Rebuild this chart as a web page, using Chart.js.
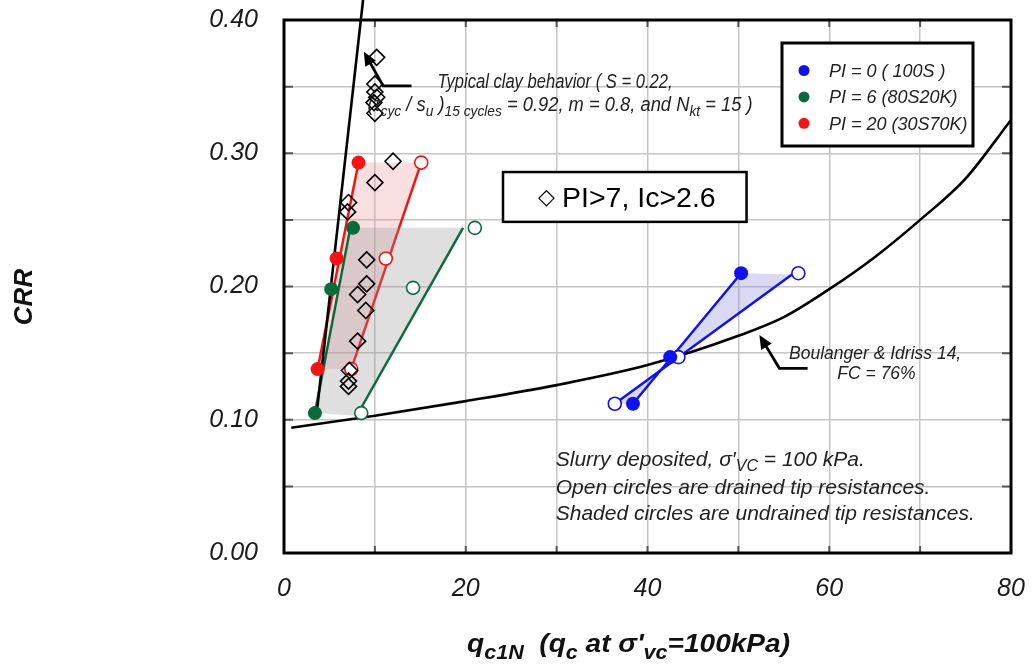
<!DOCTYPE html>
<html>
<head>
<meta charset="utf-8">
<script src="https://cdn.jsdelivr.net/npm/chart.js@4.4.1/dist/chart.umd.min.js"></script>
<style>
  html, body { margin: 0; padding: 0; background: #fff; }
  #wrap { width: 1034px; height: 666px; }
</style>
</head>
<body>
<div id="wrap"><canvas id="chart" width="1034" height="666"></canvas></div>
<script>
// --- data ---
// undrained (shaded) and drained (open) tip resistances
const blueUndrainedX = [38.4, 42.5, 50.3];
const blueUndrainedY = [0.112, 0.147, 0.210];
const blueDrainedX = [36.4, 43.4, 56.6];
const blueDrainedY = [0.112, 0.147, 0.210];
const greenUndrainedX = [3.4, 5.2, 7.6];
const greenUndrainedY = [0.105, 0.198, 0.244];
const greenDrainedX = [8.5, 14.2, 21.0];
const greenDrainedY = [0.105, 0.199, 0.244];
const redUndrainedX = [3.7, 5.8, 8.2];
const redUndrainedY = [0.138, 0.221, 0.293];
const redDrainedX = [7.4, 11.2, 15.1];
const redDrainedY = [0.138, 0.221, 0.293];

// trend lines (end points)
const blueUndrainedLineX = [38.4, 50.3];
const blueUndrainedLineY = [0.112, 0.210];
const blueDrainedLineX = [36.4, 55.9];
const blueDrainedLineY = [0.112, 0.209];
const greenUndrainedLineX = [3.4, 7.3];
const greenUndrainedLineY = [0.105, 0.244];
const greenDrainedLineX = [8.0, 19.7];
const greenDrainedLineY = [0.103, 0.244];
const redUndrainedLineX = [3.7, 8.2];
const redUndrainedLineY = [0.138, 0.293];
const redDrainedLineX = [7.4, 15.1];
const redDrainedLineY = [0.138, 0.293];

// PI>7, Ic>2.6 field points
const clayX = [10.2, 10.0, 10.0, 10.2, 9.9, 10.0, 12.0, 10.0, 7.1, 7.0, 9.1, 9.1, 8.1, 9.0, 8.1, 7.2, 7.1, 7.1];
const clayY = [0.372, 0.352, 0.346, 0.342, 0.338, 0.330, 0.294, 0.278, 0.263, 0.256, 0.220, 0.202, 0.194, 0.182, 0.159, 0.137, 0.129, 0.125];

// typical clay behaviour line
const clayLineX = [3.6, 8.7];
const clayLineY = [0.105, 0.415];

// Boulanger & Idriss 14, FC = 76%
const biX = [0.8, 10, 20, 30, 40, 50, 55, 60, 65, 70, 75, 80];
const biY = [0.094, 0.103, 0.114, 0.126, 0.141, 0.163, 0.177, 0.198, 0.222, 0.250, 0.281, 0.325];

const legendLabels = ['PI = 0 ( 100S )', 'PI = 6 (80S20K)', 'PI = 20 (30S70K)'];
const xTickLabels = [0, 20, 40, 60, 80];
const yTickLabels = [0, 0.1, 0.2, 0.3, 0.4];

const BLUE = '#1010f0';
const GREEN = '#0c6a3a';
const RED = '#f41414';
const FONT = '"Liberation Sans", Arial, Helvetica, sans-serif';

const pts = (xs, ys) => xs.map((x, i) => ({ x: x, y: ys[i] }));
// closed shape between an undrained line and a drained line
const band = (ax, ay, bx, by) => pts([ax[0], ax[1], bx[1], bx[0]], [ay[0], ay[1], by[1], by[0]]);

function markers(xs, ys, color, open, order) {
    return {
        data: pts(xs, ys),
        showLine: false,
        pointStyle: 'circle',
        pointRadius: open ? 6.5 : 7,
        pointBorderWidth: open ? 1.6 : 0,
        pointBorderColor: color,
        pointBackgroundColor: open ? '#ffffff' : color,
        order: order
    };
}

function line(xs, ys, color, order, extra) {
    return Object.assign({
        data: pts(xs, ys),
        showLine: true,
        borderColor: color,
        borderWidth: 2.5,
        pointRadius: 0,
        fill: false,
        order: order
    }, extra || {});
}

function shade(data, color, order) {
    return {
        data: data,
        showLine: true,
        borderWidth: 0,
        pointRadius: 0,
        backgroundColor: color,
        fill: 'shape',
        order: order
    };
}

// rich text with subscripts: segs = [[text, isSub], ...]
function drawRich(ctx, segs, x, y, size, style, fitWidth) {
    const subSize = Math.round(size * 0.75);
    const fontOf = sub => style + ' ' + (sub ? subSize : size) + 'px ' + FONT;
    let total = 0;
    segs.forEach(s => { ctx.font = fontOf(s[1]); total += ctx.measureText(s[0]).width; });
    const k = fitWidth ? fitWidth / total : 1;
    ctx.save();
    ctx.translate(x, y);
    ctx.scale(k, 1);
    ctx.textAlign = 'left';
    ctx.textBaseline = 'alphabetic';
    let cx = 0;
    segs.forEach(s => {
        ctx.font = fontOf(s[1]);
        ctx.fillText(s[0], cx, s[1] ? size * 0.25 : 0);
        cx += ctx.measureText(s[0]).width;
    });
    ctx.restore();
}

function arrow(ctx, xs, ys, sx, sy) {
    // xs/ys in data units, first point is the tip
    const p = xs.map((v, i) => [sx.getPixelForValue(v), sy.getPixelForValue(ys[i])]);
    ctx.save();
    ctx.strokeStyle = '#000';
    ctx.fillStyle = '#000';
    ctx.lineWidth = 2.8;
    const ang = Math.atan2(p[0][1] - p[1][1], p[0][0] - p[1][0]);
    ctx.beginPath();
    ctx.moveTo(p[0][0] - Math.cos(ang) * 8, p[0][1] - Math.sin(ang) * 8);
    for (let i = 1; i < p.length; i++) ctx.lineTo(p[i][0], p[i][1]);
    ctx.stroke();
    ctx.beginPath();
    ctx.moveTo(p[0][0], p[0][1]);
    ctx.lineTo(p[0][0] - Math.cos(ang - 0.42) * 15, p[0][1] - Math.sin(ang - 0.42) * 15);
    ctx.lineTo(p[0][0] - Math.cos(ang + 0.42) * 15, p[0][1] - Math.sin(ang + 0.42) * 15);
    ctx.closePath();
    ctx.fill();
    ctx.restore();
}

const decorations = {
    id: 'decorations',
    beforeDatasetsDraw(chart) {
        const { ctx, chartArea: a, scales } = chart;
        ctx.save();
        // short inner tick stubs
        ctx.strokeStyle = '#555';
        ctx.lineWidth = 2;
        scales.x.ticks.forEach(t => {
            const px = scales.x.getPixelForValue(t.value);
            ctx.beginPath();
            ctx.moveTo(px, a.bottom); ctx.lineTo(px, a.bottom - 7);
            ctx.moveTo(px, a.top); ctx.lineTo(px, a.top + 7);
            ctx.stroke();
        });
        scales.y.ticks.forEach(t => {
            const py = scales.y.getPixelForValue(t.value);
            ctx.beginPath();
            ctx.moveTo(a.left, py); ctx.lineTo(a.left + 9, py);
            ctx.moveTo(a.right, py); ctx.lineTo(a.right - 9, py);
            ctx.stroke();
        });
        // frame
        ctx.strokeStyle = '#000';
        ctx.lineWidth = 3;
        ctx.strokeRect(a.left, a.top, a.right - a.left, a.bottom - a.top);
        ctx.restore();
    },
    afterDatasetsDraw(chart) {
        const { ctx, chartArea: a, scales } = chart;
        const sx = scales.x, sy = scales.y;
        const X = v => sx.getPixelForValue(v);
        const Y = v => sy.getPixelForValue(v);
        ctx.save();
        ctx.fillStyle = '#222';

        // typical clay note + arrow
        arrow(ctx, [8.79, 10.91, 14.03], [0.3762, 0.3505, 0.3505], sx, sy);
        drawRich(ctx, [['Typical clay behavior ( S = 0.22,', 0]], X(16.9), Y(0.349), 20, 'italic', 235);
        drawRich(ctx, [['(\u03c4', 0], ['cyc', 1], [' / s', 0], ['u', 1], [' )', 0], ['15 cycles', 1],
            [' = 0.92, m = 0.8, and N', 0], ['kt', 1], [' = 15 )', 0]], X(9.2), Y(0.3317), 20, 'italic', 385);

        // PI>7, Ic>2.6 box
        const bx0 = X(24.1), bx1 = X(50.9), by0 = Y(0.2859), by1 = Y(0.2485);
        ctx.fillStyle = '#fff';
        ctx.fillRect(bx0, by0, bx1 - bx0, by1 - by0);
        ctx.strokeStyle = '#000';
        ctx.lineWidth = 2.5;
        ctx.strokeRect(bx0, by0, bx1 - bx0, by1 - by0);
        ctx.fillStyle = '#000';
        ctx.textBaseline = 'alphabetic';
        ctx.textAlign = 'left';
        ctx.font = '22px "DejaVu Sans", ' + FONT;
        ctx.fillText('\u25c7', bx0 + 35, by0 + 32);
        ctx.font = '28.5px ' + FONT;
        ctx.fillText('PI>7, Ic>2.6', bx0 + 59, by0 + 35);

        // Boulanger & Idriss note + arrow
        arrow(ctx, [52.31, 54.51, 57.62], [0.1636, 0.1386, 0.1386], sx, sy);
        ctx.fillStyle = '#222';
        ctx.textAlign = 'center';
        ctx.font = 'italic 17.5px ' + FONT;
        ctx.fillText('Boulanger & Idriss 14,', X(65.05), Y(0.1456));
        ctx.fillText('FC = 76%', X(65.2), Y(0.1306));

        // bottom notes
        drawRich(ctx, [['Slurry deposited, \u03c3\u2032', 0], ['VC', 1], [' = 100 kPa.', 0]], X(29.9), Y(0.0653), 21, 'italic');
        drawRich(ctx, [['Open circles are drained tip resistances.', 0]], X(29.9), Y(0.0443), 21, 'italic');
        drawRich(ctx, [['Shaded circles are undrained tip resistances.', 0]], X(29.9), Y(0.0248), 21, 'italic');

        // legend box
        const lx = a.right - 229, ly = a.top + 23, lw = 191, lh = 103;
        ctx.fillStyle = '#fff';
        ctx.fillRect(lx, ly, lw, lh);
        ctx.strokeStyle = '#000';
        ctx.lineWidth = 3;
        ctx.strokeRect(lx, ly, lw, lh);
        const colors = [BLUE, GREEN, RED];
        ctx.textAlign = 'left';
        ctx.font = 'italic 18px ' + FONT;
        legendLabels.forEach((t, i) => {
            const cy = ly + 27.5 + i * 26.4;
            ctx.fillStyle = colors[i];
            ctx.beginPath();
            ctx.arc(lx + 22, cy, 5.5, 0, Math.PI * 2);
            ctx.fill();
            ctx.fillStyle = '#222';
            ctx.fillText(t, lx + 47, cy + 6.5);
        });
        ctx.restore();
    },
    afterDraw(chart) {
        const { ctx } = chart;
        ctx.save();
        ctx.fillStyle = '#111';
        // y title
        ctx.translate(25, 297);
        ctx.rotate(-Math.PI / 2);
        ctx.textAlign = 'center';
        ctx.textBaseline = 'middle';
        ctx.font = 'italic bold 26px ' + FONT;
        ctx.fillText('CRR', 0, 0);
        ctx.restore();
        ctx.save();
        ctx.fillStyle = '#111';
        drawRich(ctx, [['q', 0], ['c1N', 1], ['  (q', 0], ['c', 1], [' at \u03c3\'', 0], ['vc', 1], ['=100kPa)', 0]],
            467, 652, 26, 'italic bold', 323);
        ctx.restore();
    }
};

const tickFont = { family: FONT, size: 25, style: 'italic' };

new Chart(document.getElementById('chart'), {
    type: 'line',
    data: {
        datasets: [
            // points
            Object.assign(markers(clayX, clayY, '#000', true, 0), {
                pointStyle: 'rectRot', pointRadius: 8, pointBorderWidth: 1.6,
                pointBackgroundColor: 'rgba(255,255,255,0)'
            }),
            markers(blueUndrainedX, blueUndrainedY, BLUE, false, 1),
            markers(blueDrainedX, blueDrainedY, BLUE, true, 1),
            markers(greenUndrainedX, greenUndrainedY, GREEN, false, 1),
            markers(greenDrainedX, greenDrainedY, GREEN, true, 1),
            markers(redUndrainedX, redUndrainedY, RED, false, 1),
            markers(redDrainedX, redDrainedY, RED, true, 1),
            // reference curves
            line(biX, biY, '#000', 2, { cubicInterpolationMode: 'monotone', borderWidth: 2.6 }),
            line(clayLineX, clayLineY, '#000', 2, { clip: false, borderWidth: 2.6 }),
            // trend lines
            line(blueUndrainedLineX, blueUndrainedLineY, BLUE, 3),
            line(blueDrainedLineX, blueDrainedLineY, BLUE, 3),
            line(greenUndrainedLineX, greenUndrainedLineY, GREEN, 3),
            line(greenDrainedLineX, greenDrainedLineY, GREEN, 3),
            shade(band(greenUndrainedLineX, greenUndrainedLineY, greenDrainedLineX, greenDrainedLineY), 'rgba(150,150,150,0.3)', 4),
            line(redUndrainedLineX, redUndrainedLineY, RED, 5),
            line(redDrainedLineX, redDrainedLineY, RED, 5),
            shade(band(redUndrainedLineX, redUndrainedLineY, redDrainedLineX, redDrainedLineY), 'rgba(235,150,150,0.3)', 6),
            shade(band(blueUndrainedLineX, blueUndrainedLineY, blueDrainedLineX, blueDrainedLineY), 'rgba(140,140,220,0.33)', 6)
        ]
    },
    options: {
        responsive: false,
        animation: false,
        events: [],
        layout: { padding: { top: 20, right: 23, left: 0, bottom: 0 } },
        plugins: { legend: { display: false }, tooltip: { enabled: false } },
        scales: {
            x: {
                type: 'linear',
                min: 0,
                max: 80,
                afterFit: s => { s.height = 113; s.paddingLeft = 0; s.paddingRight = 0; },
                border: { display: false },
                grid: { color: '#c4c4c4', lineWidth: 1.5, drawTicks: false },
                ticks: {
                    stepSize: 10, autoSkip: false, maxRotation: 0, padding: 21,
                    font: tickFont, color: '#1a1a1a',
                    callback: v => xTickLabels.includes(v) ? String(v) : ''
                }
            },
            y: {
                type: 'linear',
                min: 0,
                max: 0.4,
                afterFit: s => { s.width = 284; s.paddingTop = 0; s.paddingBottom = 0; },
                border: { display: false },
                grid: { color: '#c4c4c4', lineWidth: 1.5, drawTicks: false },
                ticks: {
                    stepSize: 0.05, autoSkip: false, padding: 26,
                    font: tickFont, color: '#1a1a1a',
                    callback: v => yTickLabels.some(t => Math.abs(t - v) < 1e-6) ? v.toFixed(2) : ''
                }
            }
        }
    },
    plugins: [decorations]
});
</script>
</body>
</html>
